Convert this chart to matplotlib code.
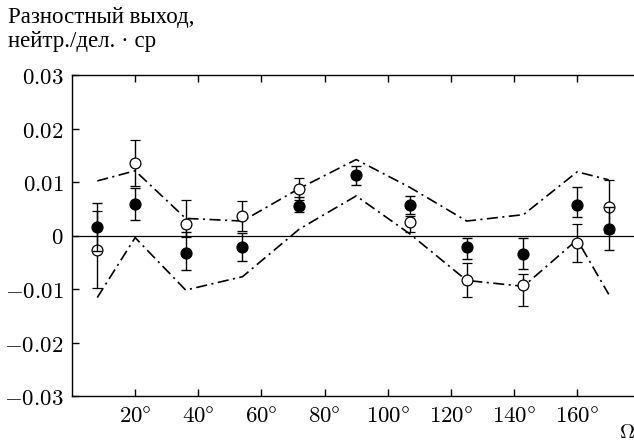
import matplotlib
matplotlib.use("Agg")
import matplotlib.pyplot as plt
import numpy as np

# scattering angles, degrees
angles = [8, 20, 36, 54, 72, 90, 107, 125, 143, 160, 170]

# filled circles
filled_y = [0.0016, 0.0059, -0.0032, -0.0022, 0.0055, 0.0113, 0.0057, -0.0022, -0.0034, 0.0057, 0.0013]
filled_lo = [0.0045, 0.0030, 0.0032, 0.0026, 0.0012, 0.0019, 0.0016, 0.0022, 0.0029, 0.0022, 0.0041]
filled_hi = [0.0045, 0.0030, 0.0038, 0.0026, 0.0017, 0.0017, 0.0016, 0.0017, 0.0030, 0.0034, 0.0041]

# open circles (none visible at 90 deg)
open_y = [-0.0027, 0.0136, 0.0022, 0.0037, 0.0087, np.nan, 0.0026, -0.0084, -0.0092, -0.0014, 0.0054]
open_lo = [0.0072, 0.0043, 0.0025, 0.0028, 0.0021, np.nan, 0.0020, 0.0031, 0.0040, 0.0036, 0.0050]
open_hi = [0.0073, 0.0043, 0.0044, 0.0028, 0.0021, np.nan, 0.0011, 0.0033, 0.0020, 0.0036, 0.0050]

# dash-dot band
band_upper = [0.0102, 0.0121, 0.0032, 0.0027, 0.0088, 0.0142, 0.0090, 0.0027, 0.0039, 0.0119, 0.0104]
band_lower = [-0.0116, -0.0004, -0.0102, -0.0077, 0.0012, 0.0074, 0.0003, -0.0084, -0.0095, -0.0008, -0.0110]

xticks = [20, 40, 60, 80, 100, 120, 140, 160]
yticks = [-0.03, -0.02, -0.01, 0, 0.01, 0.02, 0.03]
ytick_labels = [r"$-0.03$", r"$-0.02$", r"$-0.01$", r"$0$", r"$0.01$", r"$0.02$", r"$0.03$"]

plt.rcParams["mathtext.fontset"] = "cm"
plt.rcParams["lines.scale_dashes"] = False

fig = plt.figure(figsize=(6.34, 4.43), dpi=100)
ax = fig.add_axes([72 / 634, 1 - 396 / 443, 1 - 72 / 634, (396 - 75) / 443])

dashdot = (0, (8, 3.2, 1.5, 3.2))
ax.plot(angles, band_upper, color="black", lw=1.2, ls=dashdot)
ax.plot(angles, band_lower, color="black", lw=1.2, ls=dashdot)
ax.axhline(0, color="black", lw=0.9)

ax.errorbar(angles, open_y, yerr=[open_lo, open_hi], fmt="o", ms=7.8,
            mfc="white", mec="black", mew=0.9, ecolor="black", elinewidth=1.0,
            capsize=3.5, capthick=1.0, zorder=3)
ax.errorbar(angles, filled_y, yerr=[filled_lo, filled_hi], fmt="o", ms=7.8,
            mfc="black", mec="black", ecolor="black", elinewidth=1.0,
            capsize=3.5, capthick=1.0, zorder=4)

ax.set_xlim(0, 178)
ax.set_ylim(-0.03, 0.03)
ax.set_xticks(xticks)
ax.set_xticklabels([r"$%d\degree$" % a for a in xticks], fontsize=16.5)
ax.set_yticks(yticks)
ax.set_yticklabels(ytick_labels, fontsize=16.5)
ax.tick_params(direction="in", length=5, width=1, top=True, right=False, pad=6)
ax.spines["right"].set_visible(False)
for s in ["left", "top", "bottom"]:
    ax.spines[s].set_linewidth(1.0)

fig.text(8 / 634, 1 - 7 / 443, "Разностный выход,\nнейтр./дел. · ср",
         family="Liberation Serif", fontsize=16.5, va="top", ha="left", linespacing=1.2)
fig.text(619 / 634, 1 / 443, r"$\Omega$", fontsize=15, ha="left", va="bottom")

fig.savefig("out.png", dpi=100)
